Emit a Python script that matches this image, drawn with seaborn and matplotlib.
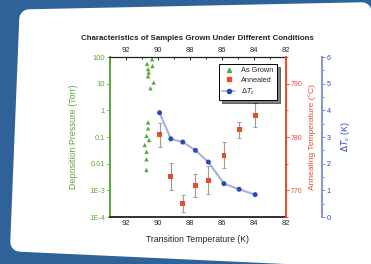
import numpy as np
import pandas as pd
import seaborn as sns
import matplotlib.pyplot as plt
from matplotlib.patches import Polygon
from matplotlib.lines import Line2D

# As grown samples: transition temperature (K) vs deposition pressure (Torr)
grown_tc = [90.37, 90.68, 90.35, 90.62, 90.58, 90.62, 90.27, 90.47,
            90.62, 90.62, 90.72, 90.56, 90.83, 90.72, 90.72, 90.72]
grown_p = [82, 55, 46, 35, 26, 19, 11, 6.7,
           0.35, 0.21, 0.11, 0.077, 0.050, 0.028, 0.0146, 0.0058]

# Annealed samples: transition temperature (K) vs annealing temperature (C)
ann_tc = [89.9, 89.2, 88.45, 87.66, 86.85, 85.88, 84.93, 83.93]
ann_t = [780.4, 772.6, 767.6, 770.9, 771.9, 776.6, 781.4, 784.1]
ann_err = [2.2, 2.6, 1.6, 2.2, 2.6, 2.5, 1.5, 2.3]

# Transition width
dtc = [3.91, 2.93, 2.81, 2.50, 2.06, 1.25, 1.04, 0.84]

x_ticks = [92, 90, 88, 86, 84, 82]
p_ticks = [100, 10, 1, 0.1, 0.01, 1e-3, 1e-4]
p_labels = ["100", "10", "1", "0.1", "0.01", "1E-3", "1E-4"]

green = "#5aa73a"
red = "#ec4a2a"
blue_ax = "#8393d2"
blue_pt = "#2e48bc"
text_c = "#222222"

sns.set_style("white")
plt.rcParams['font.family'] = ['Liberation Sans', 'DejaVu Sans']
plt.rcParams['font.size'] = 5.3

W, H = 371, 264
fig = plt.figure(figsize=(3.71, 2.64), dpi=100)
fig.patch.set_facecolor("#2f6298")

# slightly skewed white card (photo of a slide), rounded via thick round-joined edge
inner = [(29, 19), (362, 12), (366, 258), (20, 242)]
card = Polygon([(x / W, 1 - y / H) for x, y in inner], closed=True,
               transform=fig.transFigure, facecolor="white",
               edgecolor="white", lw=14, joinstyle="round", zorder=-5)
fig.patches.append(card)

ax = fig.add_axes([110 / W, 1 - 217 / H, 176 / W, 160 / H])
ax2 = ax.twinx()
ax3 = ax.twinx()

df_g = pd.DataFrame({"tc": grown_tc, "p": grown_p})
df_a = pd.DataFrame({"tc": ann_tc, "t": ann_t, "err": ann_err})
df_d = pd.DataFrame({"tc": ann_tc, "d": dtc})

sns.scatterplot(data=df_g, x="tc", y="p", ax=ax, marker="^", color=green,
                s=10, edgecolor="none", legend=False)
ax.set_yscale("log")
ax.set_ylim(1e-4, 100)
ax.set_xlim(93, 82)
ax.set_yticks(p_ticks)
ax.set_yticklabels(p_labels)
ax.minorticks_off()
ax.set_xticks(x_ticks)
ax.set_xticks(np.arange(93, 81, -1), minor=True)
ax.tick_params(axis="x", which="both", direction="in", length=2, width=0.7,
               pad=2.5, top=True, labeltop=True, colors=text_c,
               labelsize=5.4)
ax.tick_params(axis="x", which="minor", length=1.3)
ax.tick_params(axis="y", colors=green, direction="out", length=2, width=0.7,
               pad=1.5, labelsize=5.4)
ax.set_xlabel("")
ax.set_ylabel("Deposition Pressure (Torr)", color=green, fontsize=6.4)
ax.yaxis.set_label_coords(-0.18, 0.5)
ax.spines["left"].set_color(green)
ax.spines["left"].set_linewidth(1.4)
ax.spines["bottom"].set_linewidth(1.3)
ax.spines["bottom"].set_color(text_c)
ax.spines["top"].set_linewidth(0.9)
ax.spines["top"].set_color(text_c)
ax.spines["right"].set_visible(False)

ax2.errorbar(ann_tc, ann_t, yerr=ann_err, fmt="none", ecolor="#9a9a9a",
             elinewidth=0.8, capsize=1.4, capthick=0.7, zorder=2)
sns.scatterplot(data=df_a, x="tc", y="t", ax=ax2, marker="s", color=red,
                s=12, edgecolor="none", legend=False, zorder=3)
ax2.set_ylim(765, 795)
ax2.set_yticks([770, 780, 790])
ax2.set_yticks(np.arange(765, 796, 5), minor=True)
ax2.tick_params(axis="y", which="both", colors=red, direction="out",
                length=2, width=0.7, pad=1.5, labelsize=5.0)
ax2.tick_params(axis="y", which="minor", length=1.3)
ax2.set_ylabel("Annealing Temperature (°C)", color=red, fontsize=6.1)
ax2.yaxis.set_label_coords(1.125, 0.5)
ax2.spines["right"].set_color(red)
ax2.spines["right"].set_linewidth(1.4)
for s in ["left", "top", "bottom"]:
    ax2.spines[s].set_visible(False)

sns.lineplot(data=df_d, x="tc", y="d", ax=ax3, color="#a9b0d8", lw=1.5,
             sort=False, legend=False, zorder=2)
sns.scatterplot(data=df_d, x="tc", y="d", ax=ax3, color=blue_pt, s=13,
                edgecolor="none", legend=False, zorder=3)
ax3.set_ylim(0, 6)
ax3.set_yticks(range(0, 7))
ax3.set_yticks(np.arange(0, 6.1, 0.5), minor=True)
ax3.spines["right"].set_position(("axes", 1.2045))
ax3.spines["right"].set_color(blue_ax)
ax3.spines["right"].set_linewidth(1.4)
for s in ["left", "top", "bottom"]:
    ax3.spines[s].set_visible(False)
ax3.tick_params(axis="y", which="both", colors=blue_ax, direction="out",
                length=2, width=0.7, pad=1.5, labelcolor=blue_pt,
                labelsize=5.2)
ax3.tick_params(axis="y", which="minor", length=1.3)
ax3.set_ylabel(r"$\Delta T_c$ (K)", color=blue_pt, fontsize=6.4)
ax3.yaxis.set_label_coords(1.30, 0.5)
ax3.set_xlim(93, 82)

handles = [
    Line2D([], [], ls="none", marker="^", color=green, markersize=3),
    Line2D([], [], ls="none", marker="s", color=red, markersize=3),
    Line2D([], [], color="#a9b0d8", lw=1.2, marker="o",
           markerfacecolor=blue_pt, markeredgecolor=blue_pt, markersize=3),
]
leg = ax3.legend(handles, ["As Grown", "Annealed", r"$\Delta T_c$"],
                 loc="upper right", bbox_to_anchor=(0.97, 0.98),
                 frameon=True, fancybox=False, shadow={"color": "black"},
                 fontsize=5.3, handlelength=1.8, borderpad=0.45,
                 labelspacing=0.35, handletextpad=0.8)
leg.get_frame().set_edgecolor("black")
leg.get_frame().set_linewidth(0.7)

fig.text(197 / W, 1 - 38 / H,
         "Characteristics of Samples Grown Under Different Conditions",
         ha="center", va="center", fontsize=5.7, fontweight="bold",
         color=text_c)
fig.text(197 / W, 1 - 240 / H, "Transition Temperature (K)",
         ha="center", va="center", fontsize=6.2, color=text_c)

fig.savefig("out.png", dpi=100, facecolor=fig.get_facecolor())
